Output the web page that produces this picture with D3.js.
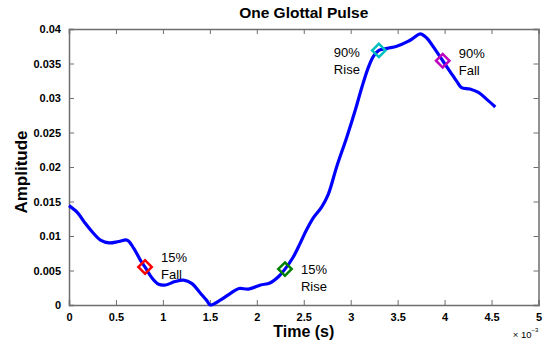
<!DOCTYPE html>
<html>
<head>
<meta charset="utf-8">
<script src="https://cdn.jsdelivr.net/npm/d3@7"></script>
<style>
  body { margin: 0; background: #fff; }
  svg { display: block; }
</style>
</head>
<body>
<div class="chart-div"></div>
<script>
//--------------------------- Data (time in ms, i.e. x 10^-3 s)

var timeMs = [0, 0.09, 0.175, 0.26, 0.335, 0.43, 0.53, 0.62, 0.69, 0.76, 0.81, 0.885, 0.955, 1.03, 1.13, 1.22, 1.31, 1.40, 1.47, 1.505,
  1.61, 1.72, 1.81, 1.91, 2.04, 2.14, 2.23, 2.30, 2.39, 2.46, 2.53, 2.60, 2.69, 2.76, 2.85, 2.96, 3.05, 3.12, 3.19, 3.24, 3.30,
  3.39, 3.49, 3.61, 3.67, 3.74, 3.81, 3.88, 3.98, 4.06, 4.13, 4.18, 4.27, 4.36, 4.45, 4.54];
var amplitude = [0.0144, 0.0134, 0.0118, 0.0104, 0.0094, 0.0090, 0.0092, 0.0094, 0.0082, 0.0065, 0.0055, 0.0039, 0.0030, 0.0029, 0.0034, 0.0036, 0.0031, 0.0017, 0.0006, 0.0000,
  0.0007, 0.0017, 0.0024, 0.0023, 0.0029, 0.0032, 0.0041, 0.0052, 0.0070, 0.0089, 0.0109, 0.0126, 0.0142, 0.0160, 0.0200, 0.0244, 0.0283, 0.0316, 0.0345, 0.0360, 0.0369,
  0.0372, 0.0375, 0.0382, 0.0387, 0.0393, 0.0387, 0.0374, 0.0354, 0.0338, 0.0324, 0.0315, 0.0313, 0.0308, 0.0298, 0.0287];

var markerNames = ["15% Fall", "15% Rise", "90% Rise", "90% Fall"];
var markerTime = [0.81, 2.30, 3.30, 3.98];
var markerAmp = [0.0055, 0.0052, 0.0369, 0.0354];
var markerColor = ["#ff0000", "#008000", "#00bfbf", "#bf00bf"];

var xTicks = [0, 0.5, 1, 1.5, 2, 2.5, 3, 3.5, 4, 4.5, 5];
var yTicks = [0, 0.005, 0.01, 0.015, 0.02, 0.025, 0.03, 0.035, 0.04];

//--------------------------- SVG definition

var width = 544;
var height = 343;
var plotL = 69, plotR = 538.5, plotT = 29, plotB = 305;

var svg = d3.select("div.chart-div")
    .append("svg")
    .attr("width", width)
    .attr("height", height)
    .attr("font-family", "Liberation Sans, Arial, sans-serif");

var x = d3.scaleLinear().domain([0, 5]).range([plotL, plotR]);
var y = d3.scaleLinear().domain([0, 0.04]).range([plotB, plotT]);

var axisColor = "#6e6e6e";
var fmt = function (d) { return String(+d.toFixed(4)); };

//--------------------------- Axes (ticks inward on all sides)

var gx = svg.append("g").attr("transform", "translate(0," + plotB + ")")
    .call(d3.axisBottom(x).tickValues(xTicks).tickSize(-5).tickPadding(8).tickFormat(fmt));
var gxt = svg.append("g").attr("transform", "translate(0," + plotT + ")")
    .call(d3.axisTop(x).tickValues(xTicks).tickSize(-5).tickFormat(""));
var gy = svg.append("g").attr("transform", "translate(" + plotL + ",0)")
    .call(d3.axisLeft(y).tickValues(yTicks).tickSize(-5).tickPadding(8).tickFormat(fmt));
var gyr = svg.append("g").attr("transform", "translate(" + plotR + ",0)")
    .call(d3.axisRight(y).tickValues(yTicks).tickSize(-5).tickFormat(""));

[gx, gxt, gy, gyr].forEach(function (g) {
    g.select(".domain").attr("stroke", axisColor).attr("stroke-width", 1.5);
    g.selectAll(".tick line").attr("stroke", axisColor);
    g.selectAll(".tick text")
        .attr("fill", "#000")
        .attr("font-size", 11)
        .attr("font-weight", "bold")
        .attr("font-family", "Liberation Sans, Arial, sans-serif");
});

// no ticks on the box corners
[gx, gxt].forEach(function (g) {
    g.selectAll(".tick line").filter(function (d) { return d == 0 || d == 5; }).remove();
});
[gy, gyr].forEach(function (g) {
    g.selectAll(".tick line").filter(function (d) { return d == 0 || d == 0.04; }).remove();
});

svg.append("text")
    .attr("x", plotR - 7)
    .attr("y", 338)
    .attr("text-anchor", "end")
    .attr("font-size", 9.5)
    .text("\u00d7 10");
svg.append("text")
    .attr("x", plotR - 7)
    .attr("y", 332)
    .attr("text-anchor", "start")
    .attr("font-size", 6)
    .text("\u22123");

//--------------------------- Title and labels

svg.append("text")
    .attr("x", (plotL + plotR) / 2)
    .attr("y", 18)
    .attr("text-anchor", "middle")
    .attr("font-size", 15.5)
    .attr("font-weight", "bold")
    .text("One Glottal Pulse");

svg.append("text")
    .attr("x", (plotL + plotR) / 2)
    .attr("y", 337)
    .attr("text-anchor", "middle")
    .attr("font-size", 16)
    .attr("font-weight", "bold")
    .text("Time (s)");

svg.append("text")
    .attr("transform", "translate(27,172) rotate(-90)")
    .attr("text-anchor", "middle")
    .attr("font-size", 17)
    .attr("font-weight", "bold")
    .text("Amplitude");

//--------------------------- Pulse line

var pts = timeMs.map(function (t, i) { return [t, amplitude[i]]; });

var lineGenerator = d3.line()
    .x(function (d) { return x(d[0]); })
    .y(function (d) { return y(d[1]); })
    .curve(d3.curveCatmullRom);

svg.append("path")
    .datum(pts)
    .attr("d", lineGenerator)
    .attr("fill", "none")
    .attr("stroke", "#0000ff")
    .attr("stroke-width", 3.2)
    .attr("stroke-linejoin", "round");

//--------------------------- Markers and their labels

var labelDx = [16, 16, -45, 16];
var labelDy = [-5, 5, 7, -3];

for (k = 0; k < markerNames.length; k++) {
    var cx = x(markerTime[k]), cy = y(markerAmp[k]);
    svg.append("path")
        .attr("d", d3.symbol(d3.symbolSquare, 90)())
        .attr("transform", "translate(" + cx + "," + cy + ") rotate(45)")
        .attr("fill", "none")
        .attr("stroke", markerColor[k])
        .attr("stroke-width", 2.5);

    var parts = markerNames[k].split(" ");
    var t = svg.append("text")
        .attr("x", cx + labelDx[k])
        .attr("y", cy + labelDy[k])
        .attr("font-size", 13)
        .attr("fill", "#000");
    t.append("tspan").attr("x", cx + labelDx[k]).text(parts[0]);
    t.append("tspan").attr("x", cx + labelDx[k]).attr("dy", 17).text(parts[1]);
}
</script>
</body>
</html>
